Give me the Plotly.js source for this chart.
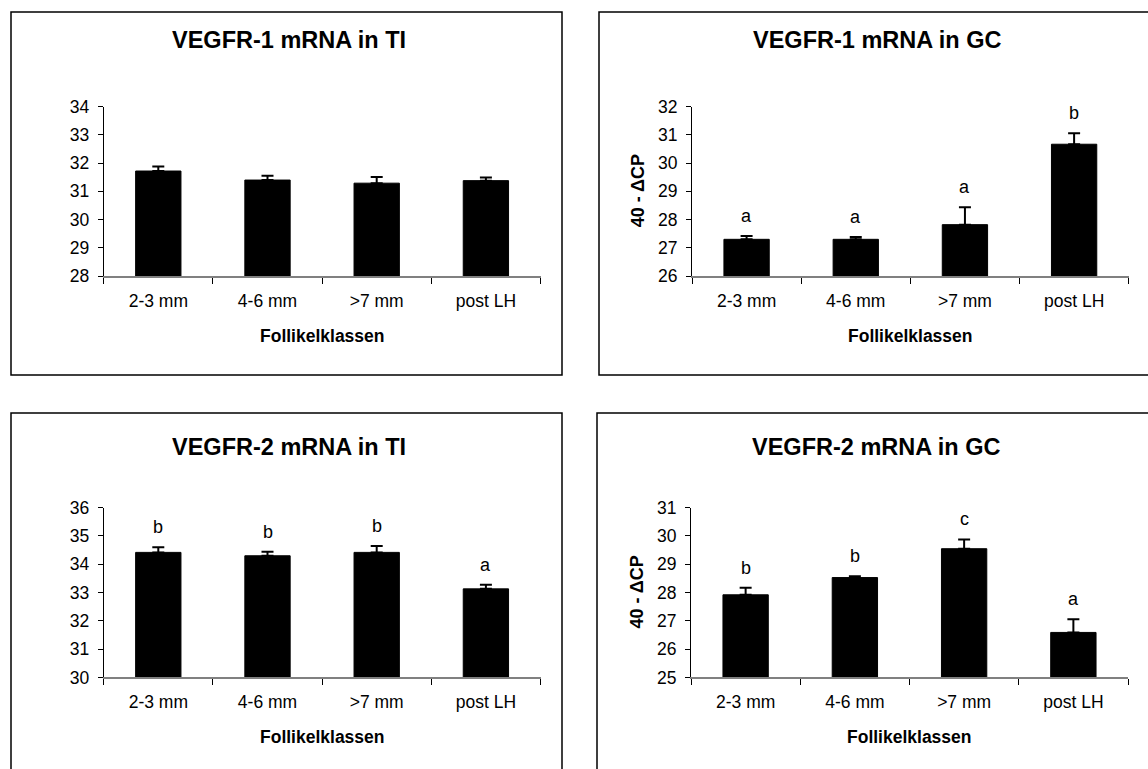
<!DOCTYPE html>
<html>
<head>
<meta charset="utf-8">
<script src="https://cdn.plot.ly/plotly-3.0.1.min.js"></script>
<style>html,body{margin:0;padding:0;background:#fff;}#chart{width:1148px;height:769px;}</style>
</head>
<body>
<div id="chart"></div>
<script>
// ---- data ----
const categories = ["2-3 mm", "4-6 mm", ">7 mm", "post LH"];

const titles = ["VEGFR-1 mRNA in TI", "VEGFR-1 mRNA in GC", "VEGFR-2 mRNA in TI", "VEGFR-2 mRNA in GC"];

const vegfr1TI = [31.72, 31.40, 31.29, 31.38];
const vegfr1TIerr = [0.16, 0.15, 0.22, 0.11];
const vegfr1TIletters = ["", "", "", ""];

const vegfr1GC = [27.30, 27.30, 27.82, 30.67];
const vegfr1GCerr = [0.12, 0.08, 0.62, 0.39];
const vegfr1GCletters = ["a", "a", "a", "b"];

const vegfr2TI = [34.42, 34.30, 34.42, 33.13];
const vegfr2TIerr = [0.18, 0.14, 0.23, 0.15];
const vegfr2TIletters = ["b", "b", "b", "a"];

const vegfr2GC = [27.92, 28.53, 29.55, 26.59];
const vegfr2GCerr = [0.25, 0.05, 0.33, 0.47];
const vegfr2GCletters = ["b", "b", "c", "a"];

const yRanges = [[28, 34], [26, 32], [30, 36], [25, 31]];
const xTitle = "Follikelklassen";
const yTitle = "40 - ΔCP";

// ---- layout helpers (pixels -> paper) ----
const W = 1148, H = 769;
const px = v => v / W;
const py = v => 1 - v / H;
const FONT = "Liberation Sans, Arial, sans-serif";

const series = [
  {y: vegfr1TI, e: vegfr1TIerr, l: vegfr1TIletters},
  {y: vegfr1GC, e: vegfr1GCerr, l: vegfr1GCletters},
  {y: vegfr2TI, e: vegfr2TIerr, l: vegfr2TIletters},
  {y: vegfr2GC, e: vegfr2GCerr, l: vegfr2GCletters}
];

// plot-area pixel boxes [left, right, top, bottom]
const areas = [
  [103.7, 540.5, 106.7, 276.0],
  [692.0, 1128.7, 106.7, 276.0],
  [103.7, 540.5, 507.7, 677.4],
  [691.0, 1128.0, 507.7, 677.4]
];
const showYTitle = [false, true, false, true];
const titleY = [40, 40, 447, 447];
const boxes = [
  [11, 12, 562, 375],
  [599, 12, 1152, 375],
  [11, 413, 562, 795],
  [597, 413, 1152, 795]
];

const data = [];
const layout = {
  width: W, height: H,
  margin: {l: 0, r: 0, t: 0, b: 0},
  paper_bgcolor: "#fff", plot_bgcolor: "rgba(0,0,0,0)",
  showlegend: false,
  bargap: 0.585,
  font: {family: FONT, color: "#000", size: 17},
  annotations: [], shapes: []
};

series.forEach((s, i) => {
  const k = i === 0 ? "" : String(i + 1);
  const xa = "x" + k, ya = "y" + k;
  data.push({
    type: "bar", x: categories, y: s.y, xaxis: xa, yaxis: ya,
    marker: {color: "#000", line: {color: "#000", width: 1}},
    error_y: {type: "data", array: s.e, arrayminus: s.e.map(() => 0), symmetric: false,
              color: "#000", thickness: 2, width: 6},
    hoverinfo: "skip"
  });
  const a = areas[i];
  layout["xaxis" + k] = {
    domain: [px(a[0]), px(a[1])], anchor: ya, type: "category",
    showline: true, linecolor: "#808080", linewidth: 1.5,
    ticks: "outside", tickson: "boundaries", ticklen: 6, tickcolor: "#000", tickwidth: 1,
    ticklabelstandoff: 8,
    showgrid: false, zeroline: false, fixedrange: true,
    tickfont: {family: FONT, size: 17.5, color: "#000"}
  };
  layout["yaxis" + k] = {
    domain: [py(a[3]), py(a[2])], anchor: xa, range: yRanges[i], dtick: 1,
    showline: true, linecolor: "#000", linewidth: 1,
    ticks: "outside", ticklen: 5, tickcolor: "#000",
    ticklabelstandoff: 5,
    showgrid: false, zeroline: false, fixedrange: true,
    tickfont: {family: FONT, size: 17.5, color: "#000"}
  };
  // panel frame
  const b = boxes[i];
  layout.shapes.push({type: "rect", xref: "paper", yref: "paper",
    x0: px(b[0]), x1: px(b[2]), y0: py(b[3]), y1: py(b[1]),
    line: {color: "#000", width: 1.5}, fillcolor: "rgba(0,0,0,0)", layer: "below"});
  // title
  layout.annotations.push({xref: "paper", yref: "paper", x: px((a[0] + a[1]) / 2 - 33), y: py(titleY[i]),
    text: "<b>" + titles[i] + "</b>", showarrow: false, xanchor: "center", yanchor: "middle",
    font: {family: FONT, size: 23.5, color: "#000"}});
  // x title
  layout.annotations.push({xref: "paper", yref: "paper", x: px((a[0] + a[1]) / 2), y: py(a[3] + 60),
    text: "<b>" + xTitle + "</b>", showarrow: false, xanchor: "center", yanchor: "middle",
    font: {family: FONT, size: 17.5, color: "#000"}});
  // y title
  if (showYTitle[i]) {
    layout.annotations.push({xref: "paper", yref: "paper", x: px(a[0] - 54), y: py((a[2] + a[3]) / 2),
      text: "<b>" + yTitle + "</b>", showarrow: false, textangle: -90, xanchor: "center", yanchor: "middle",
      font: {family: FONT, size: 18, color: "#000"}});
  }
  // significance letters
  s.l.forEach((t, j) => {
    if (!t) return;
    layout.annotations.push({xref: xa, yref: ya, x: categories[j], y: s.y[j] + s.e[j],
      text: t, showarrow: false, xanchor: "center", yanchor: "bottom", yshift: 8,
      font: {family: FONT, size: 18, color: "#000"}});
  });
});

Plotly.newPlot("chart", data, layout, {displayModeBar: false, staticPlot: true});
</script>
</body>
</html>
